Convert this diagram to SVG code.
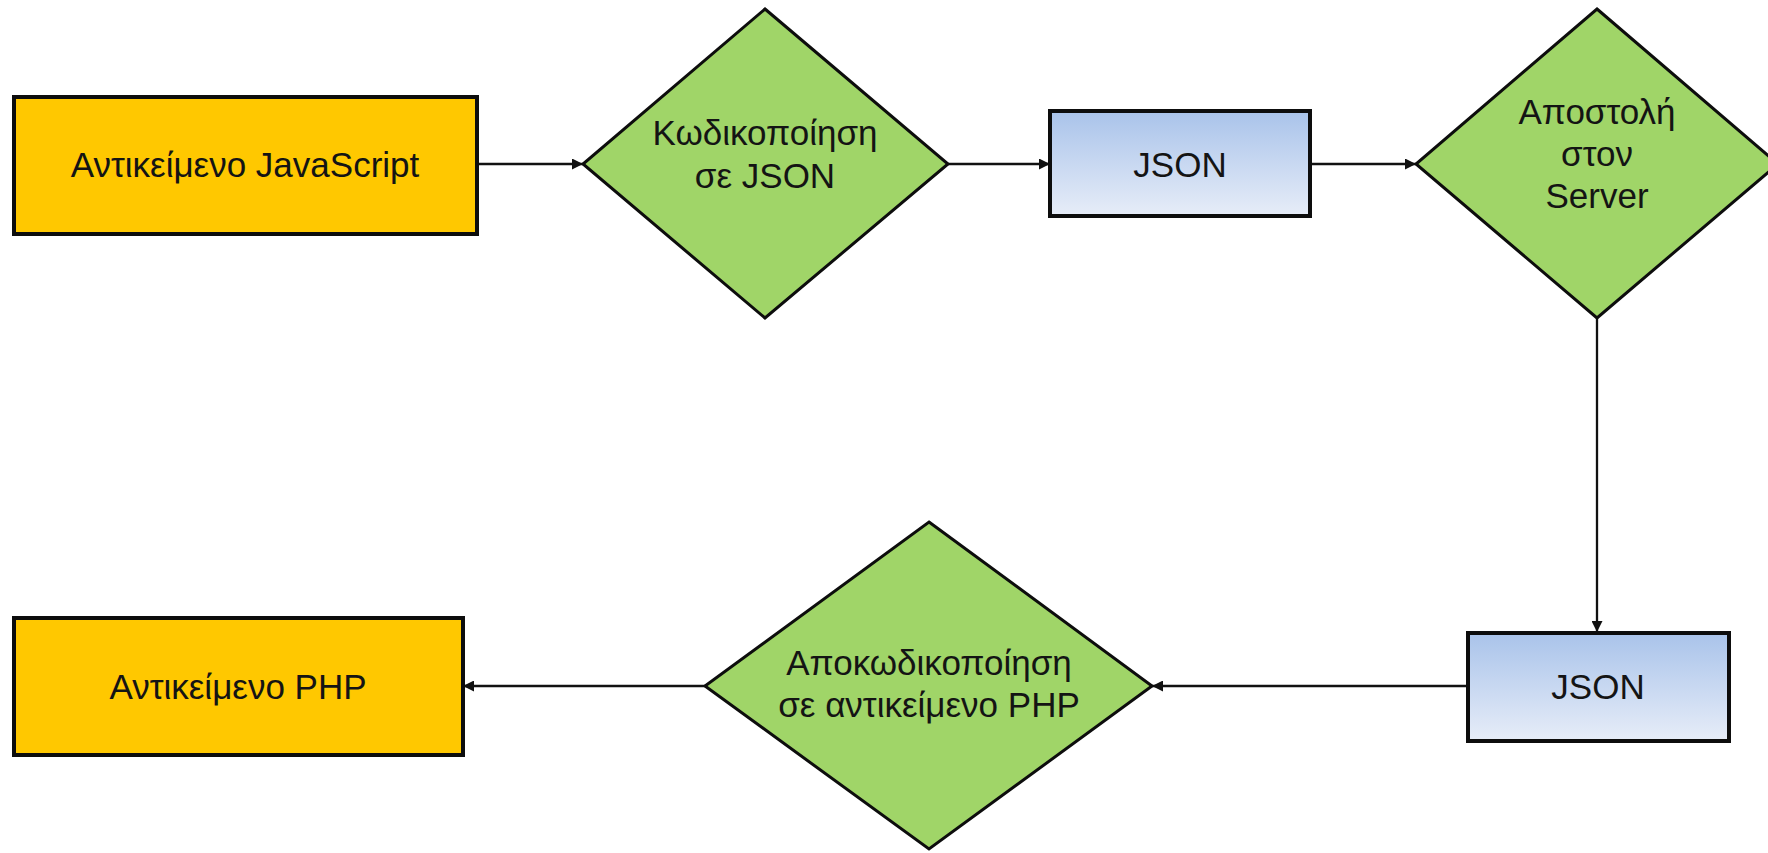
<svg xmlns="http://www.w3.org/2000/svg" width="1768" height="853" viewBox="0 0 1768 853">
  <style>
    .lbl { font-family: "Liberation Sans", Arial, sans-serif; font-size: 35px; fill: #141414; text-anchor: middle; }
    .obj { fill: #FFC800; stroke: #0d0d0d; stroke-width: 4; }
    .step { fill: #A0D568; stroke: #0d0d0d; stroke-width: 3; stroke-linejoin: miter; }
    .data { fill: url(#jsonFill); stroke: #0d0d0d; stroke-width: 4; }
    .conn { fill: none; stroke: #111; stroke-width: 2.3; }
  </style>
  <defs>
    <linearGradient id="jsonFill" x1="0" y1="0" x2="0" y2="1">
      <stop offset="0" stop-color="#A9C3EA"/>
      <stop offset="1" stop-color="#E7EDF8"/>
    </linearGradient>
    <marker id="arrow" viewBox="0 0 10 10" refX="10" refY="5" markerWidth="13" markerHeight="11" markerUnits="userSpaceOnUse" orient="auto">
      <path d="M0,0 L10,5 L0,10 Z" fill="#111"/>
    </marker>
  </defs>

  <rect width="1768" height="853" fill="#FFFFFF"/>

  <!-- connectors -->
  <g id="connectors">
    <line class="conn" x1="477" y1="164" x2="583" y2="164" marker-end="url(#arrow)"/>
    <line class="conn" x1="948" y1="164" x2="1050" y2="164" marker-end="url(#arrow)"/>
    <line class="conn" x1="1310" y1="164" x2="1416" y2="164" marker-end="url(#arrow)"/>
    <line class="conn" x1="1597" y1="318" x2="1597" y2="632" marker-end="url(#arrow)"/>
    <line class="conn" x1="1468" y1="686" x2="1152" y2="686" marker-end="url(#arrow)"/>
    <line class="conn" x1="705" y1="686" x2="463" y2="686" marker-end="url(#arrow)"/>
  </g>

  <!-- JavaScript object -->
  <g id="js-object">
    <rect class="obj" x="14" y="97" width="463" height="137"/>
    <text class="lbl" x="245" y="177">Αντικείμενο JavaScript</text>
  </g>

  <!-- encode to JSON -->
  <g id="encode">
    <polygon class="step" points="765,9 948,164 765,318 583,164"/>
    <text class="lbl" x="765" y="145">Κωδικοποίηση</text>
    <text class="lbl" x="765" y="188">σε JSON</text>
  </g>

  <!-- JSON string (client) -->
  <g id="json-client">
    <rect class="data" x="1050" y="111" width="260" height="105"/>
    <text class="lbl" x="1180" y="177">JSON</text>
  </g>

  <!-- send to server -->
  <g id="send">
    <polygon class="step" points="1597,9 1778,164 1597,318 1416,164"/>
    <text class="lbl" x="1597" y="124">Αποστολή</text>
    <text class="lbl" x="1597" y="166">στον</text>
    <text class="lbl" x="1597" y="208">Server</text>
  </g>

  <!-- JSON string (server) -->
  <g id="json-server">
    <rect class="data" x="1468" y="633" width="261" height="108"/>
    <text class="lbl" x="1598" y="699">JSON</text>
  </g>

  <!-- decode to PHP object -->
  <g id="decode">
    <polygon class="step" points="929,522 1152,686 929,849 705,686"/>
    <text class="lbl" x="929" y="675">Αποκωδικοποίηση</text>
    <text class="lbl" x="929" y="717">σε αντικείμενο PHP</text>
  </g>

  <!-- PHP object -->
  <g id="php-object">
    <rect class="obj" x="14" y="618" width="449" height="137"/>
    <text class="lbl" x="238" y="699">Αντικείμενο PHP</text>
  </g>
</svg>
